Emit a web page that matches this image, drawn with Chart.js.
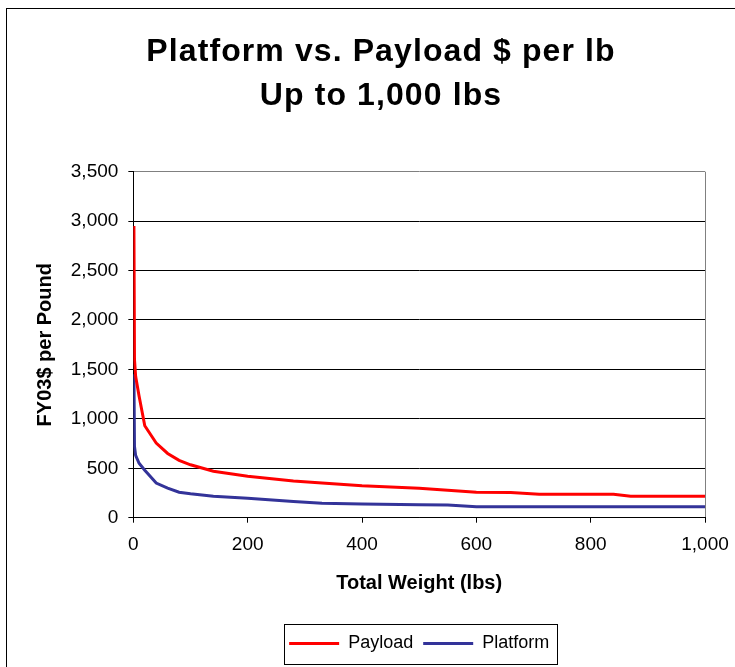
<!DOCTYPE html>
<html>
<head>
<meta charset="utf-8">
<title>Platform vs. Payload $ per lb</title>
<script src="https://cdn.jsdelivr.net/npm/chart.js@4.4.0/dist/chart.umd.min.js"></script>
<style>
  html, body { margin: 0; padding: 0; background: #fff; overflow: hidden; }
  #wrap { position: relative; width: 735px; height: 667px; }
</style>
</head>
<body>
<div id="wrap"><canvas id="chart" width="735" height="667"></canvas></div>
<script>
// Total weight (lbs) sampled along the curves
const weights = [1, 2, 4, 10, 20, 40, 60, 80, 100, 140, 200, 280, 330, 400, 500, 550, 600, 660, 710, 840, 870, 1000];
// FY03 dollars per pound
const payloadCost  = [2950, 1600, 1430, 1230, 930, 755, 650, 580, 535, 470, 420, 372, 350, 322, 298, 278, 258, 254, 237, 237, 217, 217];
const platformCost = [1450, 720, 630, 550, 480, 350, 300, 258, 242, 218, 197, 164, 145, 138, 130, 129, 111, 110, 110, 110, 110, 110];

const titleLines = ['Platform vs. Payload $ per lb', 'Up to 1,000 lbs'];
const xTitle = 'Total Weight (lbs)';
const yTitle = 'FY03$ per Pound';
const xRange = { min: 0, max: 1000, step: 200 };
const yRange = { min: 0, max: 3500, step: 500 };

const numFmt = new Intl.NumberFormat('en-US');
const toPoints = (vals) => weights.map((w, i) => ({ x: w, y: vals[i] }));

Chart.defaults.font.family = '"Liberation Sans", Arial, Helvetica, sans-serif';
Chart.defaults.color = '#000';

// White page, outer chart frame and the boxed legend
const framePlugin = {
  id: 'frame',
  beforeDraw(chart) {
    const { ctx, width, height } = chart;
    ctx.save();
    ctx.fillStyle = '#fff';
    ctx.fillRect(0, 0, width, height);
    ctx.restore();
  },
  afterDraw(chart) {
    const ctx = chart.ctx;
    ctx.save();
    ctx.strokeStyle = '#000';
    ctx.lineWidth = 1;
    ctx.strokeRect(6.5, 8.5, 900, 900);
    const boxes = chart.legend && chart.legend.legendHitBoxes;
    if (boxes && boxes.length) {
      const left = Math.min(...boxes.map(b => b.left));
      const right = Math.max(...boxes.map(b => b.left + b.width));
      const top = Math.min(...boxes.map(b => b.top));
      const bottom = Math.max(...boxes.map(b => b.top + b.height));
      ctx.strokeRect(Math.round(left - 5) + 0.5, Math.round(top - 11) + 0.5,
                     Math.round(right - left + 13), Math.round(bottom - top + 22));
    }
    ctx.restore();
  }
};

const chart = new Chart(document.getElementById('chart'), {
  type: 'line',
  data: {
    datasets: [
      {
        label: 'Payload',
        data: toPoints(payloadCost),
        borderColor: '#ff0000',
        backgroundColor: '#ff0000',
        borderWidth: 3,
        pointRadius: 0,
        tension: 0
      },
      {
        label: 'Platform',
        data: toPoints(platformCost),
        borderColor: '#333399',
        backgroundColor: '#333399',
        borderWidth: 3,
        pointRadius: 0,
        tension: 0
      }
    ]
  },
  options: {
    responsive: false,
    animation: false,
    devicePixelRatio: 1,
    layout: { padding: { left: 57, right: 30, top: 0, bottom: 4.5 } },
    scales: {
      x: {
        type: 'linear',
        min: xRange.min,
        max: xRange.max,
        // the last tick label may run into the right margin
        afterFit: (scale) => { scale.paddingRight = 0; },
        ticks: {
          stepSize: xRange.step,
          font: { size: 19 },
          padding: 11,
          maxRotation: 0,
          callback: (v) => numFmt.format(v)
        },
        grid: {
          color: (c) => (c.tick && c.tick.value === xRange.max) ? '#808080' : 'rgba(0,0,0,0)',
          tickColor: '#000',
          tickLength: 5,
          lineWidth: 1
        },
        border: { color: '#000', width: 1 },
        title: {
          display: true,
          text: xTitle,
          font: { size: 20, weight: 'bold' },
          padding: { top: 4, bottom: 29 }
        }
      },
      y: {
        min: yRange.min,
        max: yRange.max,
        ticks: {
          stepSize: yRange.step,
          font: { size: 19 },
          padding: 10,
          callback: (v) => numFmt.format(v)
        },
        grid: {
          color: (c) => (c.tick && c.tick.value === yRange.max) ? '#808080' : '#000',
          tickColor: '#000',
          tickLength: 5,
          lineWidth: 1
        },
        border: { color: '#000', width: 1 },
        title: {
          display: true,
          text: yTitle,
          font: { size: 20, weight: 'bold' },
          padding: { top: -23.3, bottom: 3.1 }
        }
      }
    },
    plugins: {
      title: {
        display: true,
        text: titleLines,
        font: { size: 32, weight: 'bold', lineHeight: 1.375 },
        color: '#000',
        padding: { top: 30.5, bottom: 53.2 }
      },
      legend: {
        position: 'bottom',
        fullSize: false,
        labels: {
          usePointStyle: true,
          pointStyle: 'line',
          pointStyleWidth: 50,
          boxWidth: 50,
          font: { size: 18 },
          color: '#000',
          padding: 10
        }
      },
      tooltip: { enabled: false }
    }
  },
  plugins: [framePlugin]
});

// Slightly open tracking on the heading, as in the printed chart
const titleBox = chart.titleBlock;
const drawTitle = titleBox.draw.bind(titleBox);
titleBox.draw = function () {
  const c = this.ctx;
  const prev = c.letterSpacing;
  c.letterSpacing = '1.1px';
  drawTitle();
  c.letterSpacing = prev || '0px';
};
chart.draw();
</script>
</body>
</html>
